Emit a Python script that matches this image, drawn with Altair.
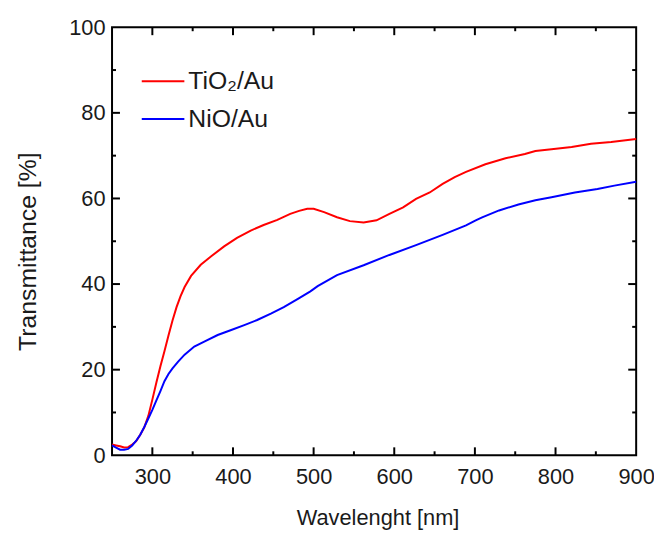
import altair as alt
import pandas as pd

# ---------------- data ----------------
series_names = ["TiO₂/Au", "NiO/Au"]
series_colors = ["#ff0000", "#0000ff"]

tio2_nm = [250, 255, 260, 265, 270, 275, 280, 285, 290, 295, 300, 305, 310, 315, 320,
           325, 330, 335, 340, 348, 360, 373, 389, 405, 422, 438, 455, 471, 482, 492,
           500, 513, 529, 545, 562, 578, 594, 611, 627, 644, 660, 675, 689, 713, 738,
           762, 775, 795, 820, 844, 869, 900]
tio2_T = [2.5, 2.3, 2.1, 1.8, 1.9, 2.5, 3.3, 4.8, 6.5, 9.2, 13.0, 17.0, 20.8, 24.3, 28.0,
          31.5, 34.6, 37.2, 39.3, 41.9, 44.5, 46.5, 48.8, 50.8, 52.5, 53.8, 55.0, 56.4, 57.1, 57.6,
          57.6, 56.8, 55.6, 54.7, 54.4, 54.9, 56.4, 57.9, 59.9, 61.4, 63.4, 65.0, 66.2, 68.0, 69.4,
          70.4, 71.1, 71.5, 72.0, 72.8, 73.2, 73.9]

nio_nm = [250, 255, 260, 265, 270, 275, 280, 285, 290, 295, 300, 305, 310, 315, 320,
          325, 332, 340, 352, 365, 381, 397, 414, 430, 447, 463, 480, 496, 505, 529,
          562, 594, 627, 660, 689, 701, 709, 730, 754, 775, 795, 824, 852, 873, 900]
nio_T = [2.3, 1.8, 1.3, 1.3, 1.5, 2.3, 3.4, 4.8, 6.6, 8.6, 10.6, 12.8, 15.0, 17.3, 19.0,
         20.3, 21.9, 23.5, 25.4, 26.6, 28.1, 29.2, 30.4, 31.6, 33.1, 34.6, 36.5, 38.3, 39.5, 42.1,
         44.4, 46.8, 49.1, 51.5, 53.7, 54.9, 55.6, 57.2, 58.6, 59.6, 60.3, 61.4, 62.2, 63.0, 63.9]

x_label_values = [300, 400, 500, 600, 700, 800, 900]
x_major_ticks = [300, 400, 500, 600, 700, 800]
x_minor_ticks = [350, 450, 550, 650, 750, 850]
y_label_values = [0, 20, 40, 60, 80, 100]
y_major_ticks = [20, 40, 60, 80]
y_minor_ticks = [10, 30, 50, 70, 90]

X_DOMAIN = [250, 900]
Y_DOMAIN = [0, 100]

# ---------------- layout / style ----------------
W, H = 529, 432
FONT = "Liberation Sans"
MAJ, MIN = 8, 4          # inward tick lengths in px
INK = "#1a1a1a"
TICK = "tick"

# ---------------- build one table: curves + frame ticks ----------------
rows = []
for n, t in zip(tio2_nm, tio2_T):
    rows.append({"nm": n, "T": t, "series": series_names[0], "g": "s0"})
for n, t in zip(nio_nm, nio_T):
    rows.append({"nm": n, "T": t, "series": series_names[1], "g": "s1"})

x_per_px = (X_DOMAIN[1] - X_DOMAIN[0]) / W
y_per_px = (Y_DOMAIN[1] - Y_DOMAIN[0]) / H
gid = 0
for vals, size in ((x_major_ticks, MAJ), (x_minor_ticks, MIN)):
    for v in vals:
        for edge, sgn in ((Y_DOMAIN[0], 1), (Y_DOMAIN[1], -1)):
            gid += 1
            rows.append({"nm": v, "T": edge, "series": TICK, "g": f"t{gid}"})
            rows.append({"nm": v, "T": edge + sgn * size * y_per_px, "series": TICK, "g": f"t{gid}"})
for vals, size in ((y_major_ticks, MAJ), (y_minor_ticks, MIN)):
    for v in vals:
        for edge, sgn in ((X_DOMAIN[0], 1), (X_DOMAIN[1], -1)):
            gid += 1
            rows.append({"nm": edge, "T": v, "series": TICK, "g": f"t{gid}"})
            rows.append({"nm": edge + sgn * size * x_per_px, "T": v, "series": TICK, "g": f"t{gid}"})
df = pd.DataFrame(rows)

x_axis = alt.Axis(values=x_label_values, title="Wavelenght [nm]", ticks=False, domain=False,
                  grid=False, labelPadding=12, labelFontSize=22, labelFont=FONT,
                  labelColor=INK, labelFlush=False, labelOverlap=False,
                  titleFontSize=22, titleFont=FONT, titleFontWeight="normal",
                  titleColor=INK, titleBaseline="alphabetic", titleX=268, titleY=70)
y_axis = alt.Axis(values=y_label_values, title="Transmittance [%]", ticks=False, domain=False,
                  grid=False, labelPadding=7, labelFontSize=22, labelFont=FONT,
                  labelColor=INK, labelFlush=False, labelOverlap=False,
                  titleFontSize=25, titleFont=FONT, titleFontWeight="normal",
                  titleColor=INK, titleBaseline="alphabetic", titleAngle=270,
                  titleX=-77, titleY=226)

chart = alt.Chart(df).mark_line(strokeWidth=2).encode(
    x=alt.X("nm:Q", scale=alt.Scale(domain=X_DOMAIN, nice=False, zero=False), axis=x_axis),
    y=alt.Y("T:Q", scale=alt.Scale(domain=Y_DOMAIN, nice=False, zero=False), axis=y_axis),
    color=alt.Color("series:N",
                    scale=alt.Scale(domain=series_names + [TICK],
                                    range=series_colors + ["#000000"]),
                    legend=alt.Legend(values=series_names, title=None, orient="none",
                                      legendX=29, legendY=32,
                                      symbolType="stroke", symbolSize=43 * 43,
                                      symbolStrokeWidth=2, labelFontSize=25, labelFont=FONT,
                                      labelColor=INK, labelOffset=3, rowPadding=2,
                                      padding=0, labelLimit=300)),
    detail="g:N",
).properties(
    width=W, height=H,
    background="white",
    padding={"left": 105, "top": 17, "right": 18, "bottom": 73},
    autosize=alt.AutoSizeParams(type="none"),
).configure_view(
    stroke="black", strokeWidth=2
)

chart.save("out.html", embed_options={"renderer": "svg", "actions": False})
